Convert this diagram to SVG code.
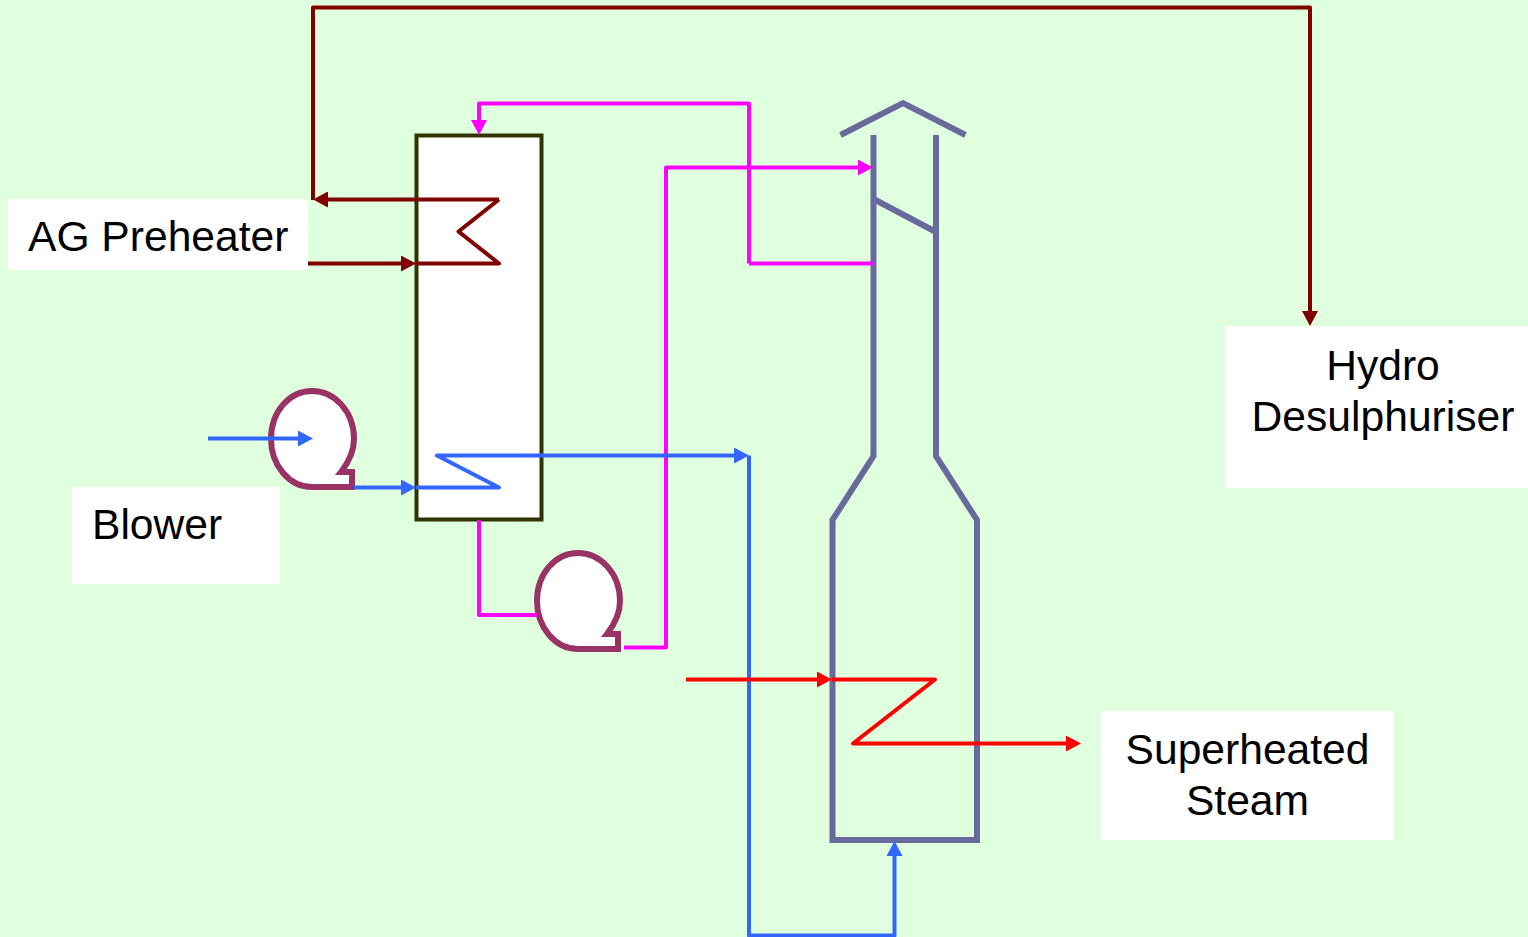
<svg xmlns="http://www.w3.org/2000/svg" width="1528" height="937" viewBox="0 0 1528 937">
<style>
.lbl{fill:#fff}
text{font-family:"Liberation Sans",Arial,sans-serif;font-size:42.6px;fill:#000}
.l{fill:none;stroke-linejoin:round;stroke-linecap:butt;stroke-width:4}
.mar{stroke:#800000}
.mag{stroke:#f0f}
.blu{stroke:#36f}
.red{stroke:#f00}
.stack{fill:none;stroke:#696a9c;stroke-width:6;stroke-linejoin:miter}
.blower{fill:#fff;stroke:#993366;stroke-width:6;stroke-linejoin:miter}
</style>
<defs>
<marker id="aMar" markerUnits="userSpaceOnUse" markerWidth="16" markerHeight="16" refX="7" refY="8" orient="auto"><path d="M0 0L15 8L0 16Z" fill="#800000"/></marker>
<marker id="aMag" markerUnits="userSpaceOnUse" markerWidth="16" markerHeight="16" refX="7" refY="8" orient="auto"><path d="M0 0L15 8L0 16Z" fill="#f0f"/></marker>
<marker id="aBlu" markerUnits="userSpaceOnUse" markerWidth="16" markerHeight="16" refX="7" refY="8" orient="auto"><path d="M0 0L15 8L0 16Z" fill="#36f"/></marker>
<marker id="aRed" markerUnits="userSpaceOnUse" markerWidth="16" markerHeight="16" refX="7" refY="8" orient="auto"><path d="M0 0L15 8L0 16Z" fill="#f00"/></marker>
</defs>
<rect width="1528" height="937" fill="#e0ffdf"/>
<g id="ag-preheater-label"><rect class="lbl" x="8" y="199" width="300" height="71"/><text x="28" y="251">AG Preheater</text></g>
<g id="blower-label"><rect class="lbl" x="72" y="487" width="208" height="97"/><text x="92" y="539">Blower</text></g>
<g id="hydro-label"><rect class="lbl" x="1226" y="326" width="302" height="162"/><text x="1383" y="380" text-anchor="middle">Hydro</text><text x="1383" y="431" text-anchor="middle">Desulphuriser</text></g>
<g id="steam-label"><rect class="lbl" x="1101" y="711" width="293" height="129"/><text x="1247.500" y="764" text-anchor="middle">Superheated</text><text x="1247.500" y="815" text-anchor="middle">Steam</text></g>
<g id="preheater"><rect x="416.500" y="135.500" width="125" height="384" fill="#fff" stroke="#333300" stroke-width="4"/></g>
<g id="blower-1"><path class="blower" d="M352 487L312 487C289 487 271 465 271 439C271 412 289 391 312 391C335 391 354 412 354 439C354 452 348 463 341 472L352 472Z"/></g>
<g id="blower-2"><path class="blower" d="M618 649L578 649C555 649 537 627 537 601C537 574 555 553 578 553C601 553 620 574 620 601C620 614 614 625 607 634L618 634Z"/></g>
<g id="furnace">
<path class="stack" d="M840.500 135L903 103L965.500 135"/>
<path class="stack" d="M873.500 135V456L832.500 520V840H977V520L936 456V135"/>
<path class="stack" d="M873.500 199L936 232"/>
</g>
<g id="connectors">
<path class="l mar" marker-end="url(#aMar)" d="M313 200V7.500H1310V318"/>
<path class="l mar" marker-end="url(#aMar)" d="M499 199.500H321"/>
<path class="l mar" d="M499 199.500L458.500 231.500L499 263.500H416"/>
<path class="l mar" marker-end="url(#aMar)" d="M308 263.500H408"/>
<path class="l mag" marker-end="url(#aMag)" d="M749 263.500V103.500H479V127"/>
<path class="l mag" d="M873 263.500H749"/>
<path class="l mag" marker-end="url(#aMag)" d="M624 647.500H666V167.500H865"/>
<path class="l mag" d="M479 520V615H537"/>
<path class="l blu" marker-end="url(#aBlu)" d="M208 438.500H305"/>
<path class="l blu" marker-end="url(#aBlu)" d="M354 487.500H408"/>
<path class="l blu" marker-end="url(#aBlu)" d="M416 487.500H499L437 455.500H741"/>
<path class="l blu" marker-end="url(#aBlu)" d="M749 455.500V935.500H894.500V849"/>
<path class="l red" marker-end="url(#aRed)" d="M686 679.500H824"/>
<path class="l red" marker-end="url(#aRed)" d="M832 679.500H935L853 743.500H1073"/>
</g>
</svg>
